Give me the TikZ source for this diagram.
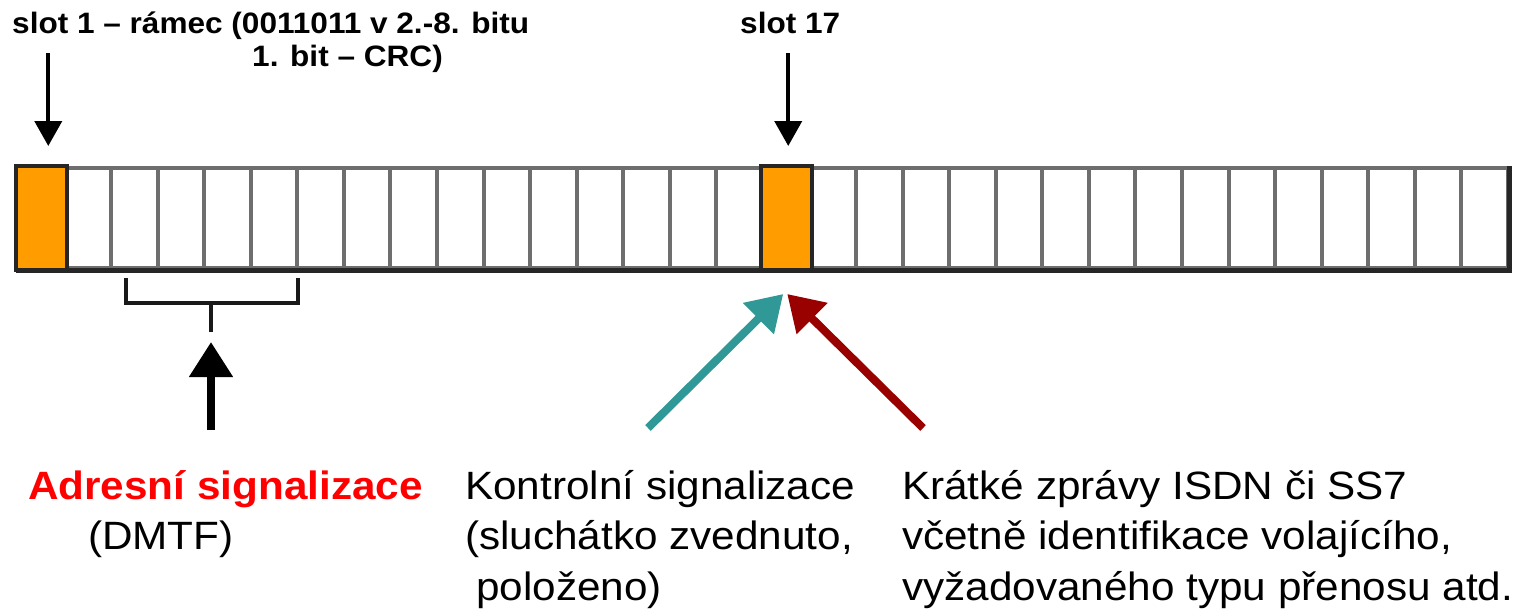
\documentclass[tikz,border=0pt]{standalone}
\usepackage{fontspec}
\setmainfont{Liberation Sans}[FakeStretch=1.07]
\usetikzlibrary{arrows.meta,calc}
\definecolor{slotorange}{RGB}{255,156,0}
\definecolor{slotgray}{RGB}{110,110,110}
\definecolor{ctrlteal}{RGB}{48,152,150}
\definecolor{isdnred}{RGB}{153,0,0}

\begin{document}
\begin{tikzpicture}[
  x=1pt, y=-1pt,
  slotbox/.style={draw=slotgray, line width=4pt, fill=white, minimum width=46.56pt, minimum height=100pt, inner sep=0pt},
  sigslot/.style={draw=black!85, line width=4pt, fill=slotorange},
  toptext/.style={font=\fontsize{29.5}{33}\selectfont\bfseries, align=left, anchor=north west, inner sep=0pt},
  bottext/.style={font=\fontsize{39.5}{50.5}\selectfont, align=left, anchor=north west, inner sep=0pt},
  pointer/.style={line width=4pt, -{Triangle[width=27pt,length=25pt]}},
  bigpointer/.style={line width=8pt, -{Triangle[width=42pt,length=35pt]}},
  bracket/.style={line width=4pt, black!90}
]
\useasboundingbox (0,0) rectangle (1515,608);

\foreach \i in {1,...,32}
  \node[slotbox] (s\i) at ({18+(\i-0.5)*46.56}, 218) {};
\foreach \i in {1,17}
  \draw[sigslot] (s\i.south west) rectangle (s\i.north east);
\draw[line width=5pt, black!85] (s1.south west) -- (s32.south east) -- (s32.north east);

\node[toptext] (frmlbl) at (12,12) {slot 1 – rámec (0011011 v 2.-8. bitu\\\hspace*{240pt}1. bit – CRC)};
\node[toptext] (s17lbl) at (740,12) {slot 17};

\coordinate (h1) at ($(s1.north)+(7,-20)$);
\coordinate (t1) at (h1 |- 0,53);
\coordinate (h17) at ($(s17.north)+(2,-20)$);
\coordinate (t17) at (h17 |- 0,53);
\draw[pointer] (t1) -- (h1);
\draw[pointer] (t17) -- (h17);

\coordinate (bk1) at (126,278);
\coordinate (bk2) at (126,303);
\coordinate (bk3) at (298,303);
\coordinate (bk4) at (298,278);
\coordinate (bkm) at (211,303);
\coordinate (bks) at (211,332);
\draw[bracket] (bk1) -- (bk2) -- (bk3) -- (bk4);
\draw[bracket] (bkm) -- (bks);

\coordinate (adrtip) at (211,342);
\coordinate (adrtail) at (211,430);
\draw[bigpointer, black] (adrtail) -- (adrtip);

\coordinate (ctrltip) at ($(s17.south)+(-3,24)$);
\coordinate (ctrltail) at (648,428);
\coordinate (isdntip) at ($(s17.south)+(1,24)$);
\coordinate (isdntail) at (923,428);
\draw[bigpointer, ctrlteal] (ctrltail) -- (ctrltip);
\draw[bigpointer, isdnred] (isdntail) -- (isdntip);

\node[bottext] (adrlbl) at (28,470) {\textcolor{red}{\bfseries Adresní signalizace}\\\hspace*{60pt}(DMTF)};
\node[bottext] (ctrllbl) at (465,470) {Kontrolní signalizace\\(sluchátko zvednuto,\\\hspace*{11pt}položeno)};
\node[bottext] (isdnlbl) at (902,470) {Krátké zprávy ISDN či SS7\\včetně identifikace volajícího,\\vyžadovaného typu přenosu atd.};
\end{tikzpicture}
\end{document}
